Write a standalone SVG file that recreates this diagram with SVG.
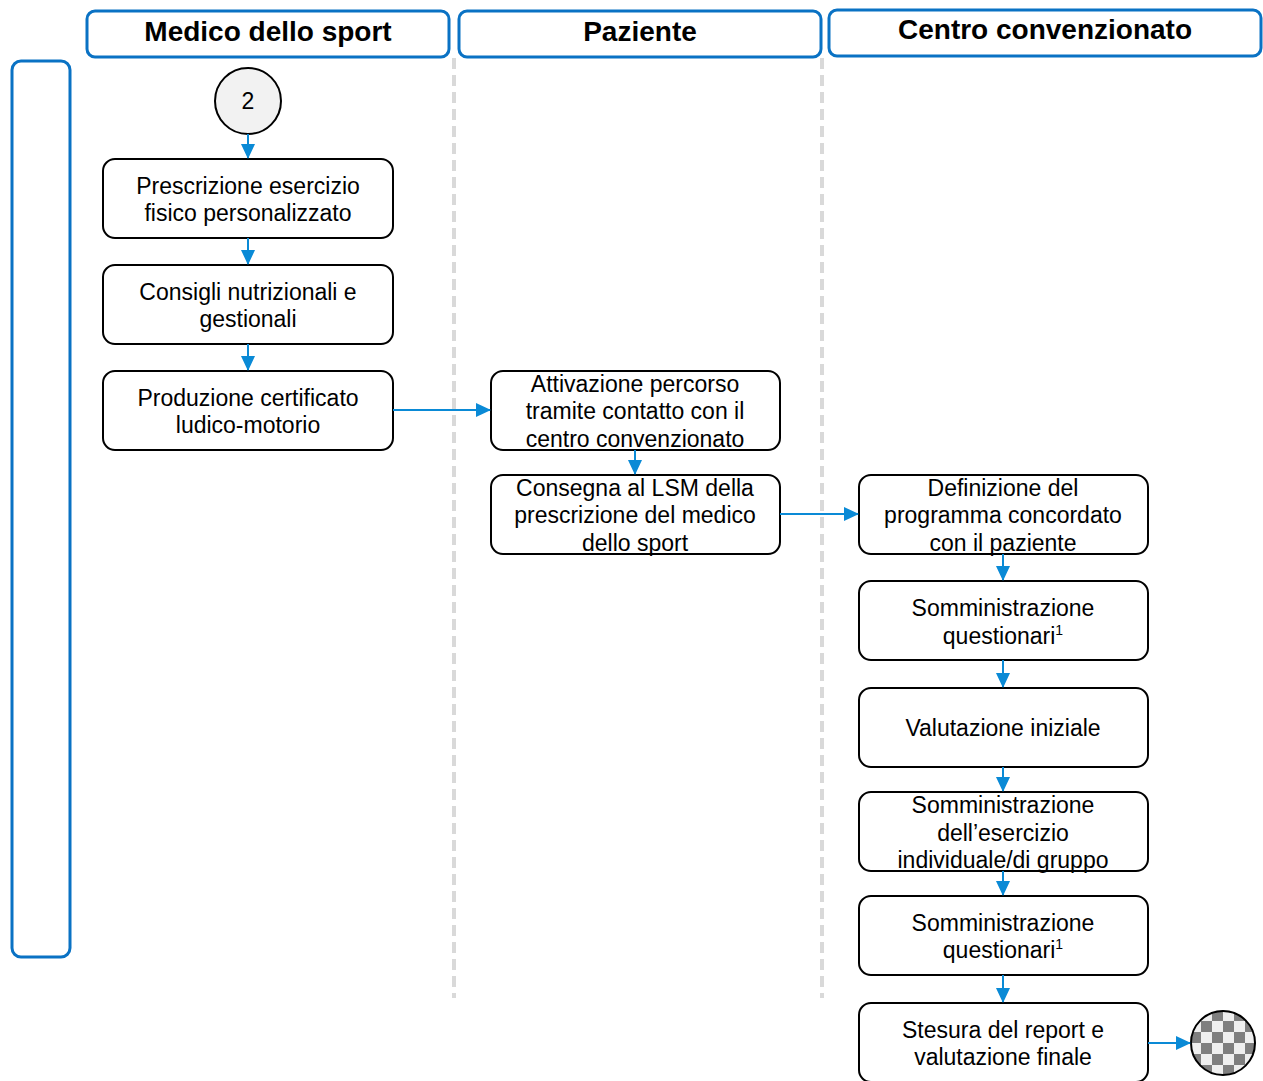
<svg xmlns="http://www.w3.org/2000/svg" width="1263" height="1081" viewBox="0 0 1263 1081">
<style>
.hdr{fill:#fff;stroke:#0a72c4;stroke-width:3}
.ht{font-family:"Liberation Sans",Arial,sans-serif;font-weight:bold;font-size:28px;text-anchor:middle;fill:#000}
.box{fill:#fff;stroke:#000;stroke-width:2}
.t{font-family:"Liberation Sans",Arial,sans-serif;font-size:23px;text-anchor:middle;fill:#000}
.lane{stroke:#d9d9d9;stroke-width:4;stroke-dasharray:11,6;fill:none}
.c{stroke:#0a8ad6;stroke-width:2;fill:none;marker-end:url(#ah)}
</style>
<defs>
<marker id="ah" markerWidth="16" markerHeight="14" refX="14" refY="7" orient="auto" markerUnits="userSpaceOnUse">
<path d="M0,0 L15,7 L0,14 Z" fill="#0a8ad6"/>
</marker>
<pattern id="chk" width="22" height="22" patternUnits="userSpaceOnUse" x="1190" y="1010">
<rect width="22" height="22" fill="#efefef"/>
<rect width="11" height="11" fill="#7f7f7f"/>
<rect x="11" y="11" width="11" height="11" fill="#7f7f7f"/>
</pattern>
</defs>
<g id="lanes">
<line class="lane" x1="454" y1="58" x2="454" y2="998"/>
<line class="lane" x1="822" y1="58" x2="822" y2="998"/>
</g>
<g id="header-medico"><rect class="hdr" x="87" y="11" width="362" height="46" rx="8"/><text class="ht" x="268" y="41">Medico dello sport</text></g>
<g id="header-paziente"><rect class="hdr" x="459" y="11" width="362" height="46" rx="8"/><text class="ht" x="640" y="41">Paziente</text></g>
<g id="header-centro"><rect class="hdr" x="829" y="10" width="432" height="46" rx="8"/><text class="ht" x="1045" y="39">Centro convenzionato</text></g>
<g id="side-bar"><rect class="hdr" x="12" y="61" width="58" height="896" rx="9"/></g>
<g id="start-2"><circle cx="248" cy="101" r="33" fill="#f2f2f2" stroke="#000" stroke-width="2"/><text class="t" x="248" y="109">2</text></g>
<g id="n1"><rect class="box" x="103" y="159" width="290" height="79" rx="12"/><text class="t" x="248" y="194">Prescrizione esercizio</text><text class="t" x="248" y="221">fisico personalizzato</text></g>
<g id="n2"><rect class="box" x="103" y="265" width="290" height="79" rx="12"/><text class="t" x="248" y="300">Consigli nutrizionali e</text><text class="t" x="248" y="327">gestionali</text></g>
<g id="n3"><rect class="box" x="103" y="371" width="290" height="79" rx="12"/><text class="t" x="248" y="406">Produzione certificato</text><text class="t" x="248" y="433">ludico-motorio</text></g>
<g id="n4"><rect class="box" x="491" y="371" width="289" height="79" rx="12"/><text class="t" x="635" y="392">Attivazione percorso</text><text class="t" x="635" y="419">tramite contatto con il</text><text class="t" x="635" y="447">centro convenzionato</text></g>
<g id="n5"><rect class="box" x="491" y="475" width="289" height="79" rx="12"/><text class="t" x="635" y="496">Consegna al LSM della</text><text class="t" x="635" y="523">prescrizione del medico</text><text class="t" x="635" y="551">dello sport</text></g>
<g id="n6"><rect class="box" x="859" y="475" width="289" height="79" rx="12"/><text class="t" x="1003" y="496">Definizione del</text><text class="t" x="1003" y="523">programma concordato</text><text class="t" x="1003" y="551">con il paziente</text></g>
<g id="n7"><rect class="box" x="859" y="581" width="289" height="79" rx="12"/><text class="t" x="1003" y="616">Somministrazione</text><text class="t" x="1003" y="644">questionari<tspan font-size="14" dy="-9">1</tspan></text></g>
<g id="n8"><rect class="box" x="859" y="688" width="289" height="79" rx="12"/><text class="t" x="1003" y="736">Valutazione iniziale</text></g>
<g id="n9"><rect class="box" x="859" y="792" width="289" height="79" rx="12"/><text class="t" x="1003" y="813">Somministrazione</text><text class="t" x="1003" y="841">dell’esercizio</text><text class="t" x="1003" y="868">individuale/di gruppo</text></g>
<g id="n10"><rect class="box" x="859" y="896" width="289" height="79" rx="12"/><text class="t" x="1003" y="931">Somministrazione</text><text class="t" x="1003" y="958">questionari<tspan font-size="14" dy="-9">1</tspan></text></g>
<g id="n11"><rect class="box" x="859" y="1003" width="289" height="79" rx="12"/><text class="t" x="1003" y="1038">Stesura del report e</text><text class="t" x="1003" y="1065">valutazione finale</text></g>
<g id="end"><circle cx="1223" cy="1043" r="32" fill="url(#chk)" stroke="#000" stroke-width="2"/></g>
<g id="connectors">
<line class="c" x1="248" y1="134" x2="248" y2="158"/>
<line class="c" x1="248" y1="238" x2="248" y2="264"/>
<line class="c" x1="248" y1="344" x2="248" y2="370"/>
<line class="c" x1="393" y1="410" x2="490" y2="410"/>
<line class="c" x1="635" y1="450" x2="635" y2="474"/>
<line class="c" x1="780" y1="514" x2="858" y2="514"/>
<line class="c" x1="1003" y1="554" x2="1003" y2="580"/>
<line class="c" x1="1003" y1="660" x2="1003" y2="687"/>
<line class="c" x1="1003" y1="767" x2="1003" y2="791"/>
<line class="c" x1="1003" y1="871" x2="1003" y2="895"/>
<line class="c" x1="1003" y1="975" x2="1003" y2="1002"/>
<line class="c" x1="1148" y1="1043" x2="1190" y2="1043"/>
</g>
</svg>
